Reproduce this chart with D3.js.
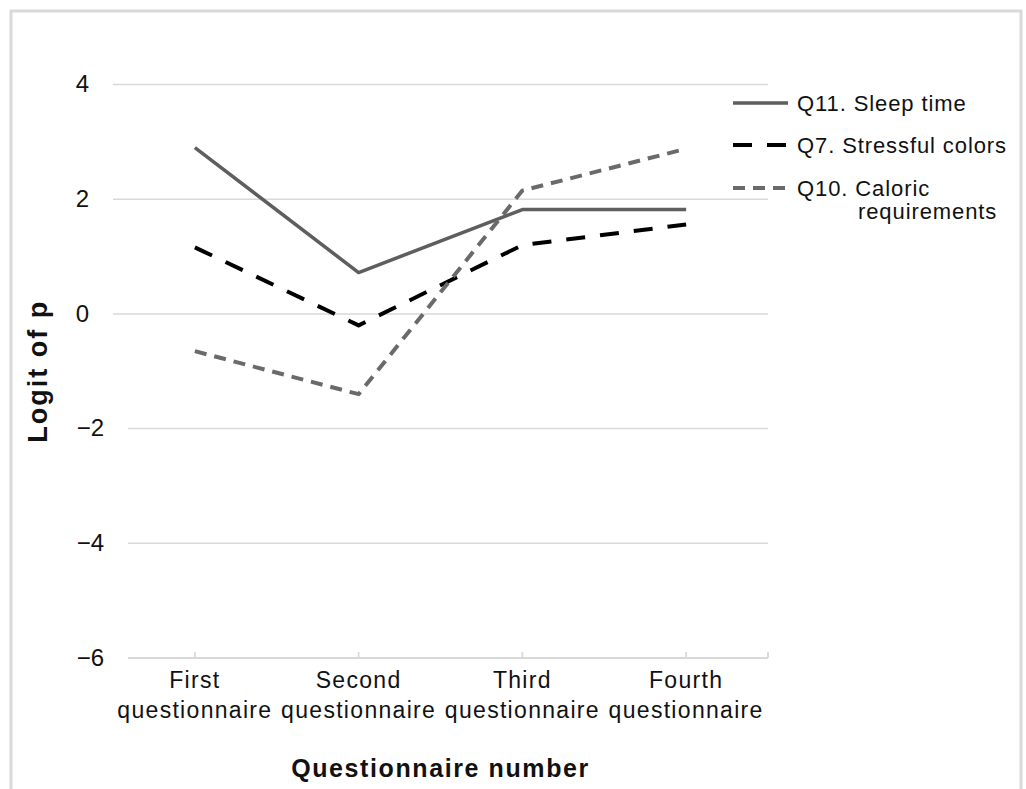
<!DOCTYPE html>
<html>
<head>
<meta charset="utf-8">
<script src="https://cdn.jsdelivr.net/npm/d3@7/dist/d3.min.js"></script>
<style>
  html, body { margin: 0; padding: 0; background: #fff; }
  svg { display: block; }
  text { font-family: "Liberation Sans", Arial, sans-serif; fill: #111; }
</style>
</head>
<body>
<svg id="chart" width="1026" height="789"></svg>
<script>
// ---- data ----
const categories = ["First questionnaire", "Second questionnaire", "Third questionnaire", "Fourth questionnaire"];
const categoryLines = [["First", "questionnaire"], ["Second", "questionnaire"], ["Third", "questionnaire"], ["Fourth", "questionnaire"]];
const q11SleepTime = [2.90, 0.72, 1.82, 1.82];
const q7StressfulColors = [1.16, -0.20, 1.20, 1.56];
const q10CaloricRequirements = [-0.65, -1.40, 2.15, 2.88];
const yTicks = [-6, -4, -2, 0, 2, 4];
const seriesNames = ["Q11. Sleep time", "Q7. Stressful colors", "Q10. Caloric requirements"];
const legendLabelLines = [["Q11. Sleep time"], ["Q7. Stressful colors"], ["Q10. Caloric", "requirements"]];

// ---- layout ----
const svg = d3.select("#chart");
const plot = { left: 113, right: 768, top: 84.5, bottom: 658 };
const lowerLeft = 128; // lower gridlines / axis start slightly further right in the reference

// frame
svg.append("rect")
  .attr("x", 11).attr("y", 11).attr("width", 1010).attr("height", 800)
  .attr("fill", "none").attr("stroke", "#d9d9d9").attr("stroke-width", 3);

const x = d3.scaleBand().domain(categories).range([plot.left, plot.right]).padding(0);
const xc = c => x(c) + x.bandwidth() / 2;
const y = d3.scaleLinear().domain([-6, 4]).range([plot.bottom, plot.top]);
const gridStart = d => d < 0 ? lowerLeft : plot.left;

// gridlines
svg.append("g").selectAll("line").data(yTicks.filter(t => t !== -6)).join("line")
  .attr("x1", d => gridStart(d)).attr("x2", plot.right)
  .attr("y1", d => y(d)).attr("y2", d => y(d))
  .attr("stroke", "#d9d9d9").attr("stroke-width", 1.5);

// y axis labels
const yAxis = d3.axisLeft(y).tickValues(yTicks).tickSize(0).tickPadding(0)
  .tickFormat(d => d < 0 ? "\u2212" + Math.abs(d) : String(d));
const gy = svg.append("g").attr("transform", `translate(${plot.left - 24},0)`).call(yAxis);
gy.select(".domain").remove();
gy.selectAll(".tick")
  .attr("transform", d => `translate(${d < 0 ? lowerLeft - plot.left : 0},${y(d)})`);
gy.selectAll("text")
  .attr("font-size", 24).attr("fill", "#111")
  .style("font-family", '"Liberation Sans", Arial, sans-serif');

// x axis
const gx = svg.append("g").attr("transform", `translate(0,${plot.bottom})`);
gx.append("line").attr("x1", lowerLeft).attr("x2", plot.right).attr("y1", 0).attr("y2", 0)
  .attr("stroke", "#d9d9d9").attr("stroke-width", 1.8);
const tickXs = categories.map(xc).concat([plot.right]);
gx.selectAll("line.tk").data(tickXs).join("line").attr("class", "tk")
  .attr("x1", d => d).attr("x2", d => d).attr("y1", 0).attr("y2", -6)
  .attr("stroke", "#d9d9d9").attr("stroke-width", 1.8);
const lbl = gx.selectAll("text.cat").data(categories).join("text").attr("class", "cat")
  .attr("text-anchor", "middle").attr("font-size", 23).style("letter-spacing", "1.3px");
lbl.each(function(c, i) {
  const t = d3.select(this);
  categoryLines[i].forEach((s, j) => {
    t.append("tspan").attr("x", xc(c)).attr("y", 30 + j * 30).text(s);
  });
});

// axis titles
svg.append("text").attr("x", (plot.left + plot.right) / 2).attr("y", 777)
  .attr("text-anchor", "middle").attr("font-size", 25).attr("font-weight", "bold")
  .style("letter-spacing", "1.6px").text("Questionnaire number");
svg.append("text")
  .attr("transform", `translate(47,${(plot.top + plot.bottom) / 2}) rotate(-90)`)
  .attr("text-anchor", "middle").attr("font-size", 27).attr("font-weight", "bold")
  .style("letter-spacing", "2px").text("Logit of p");

// series
const styles = [
  { color: "#5e5e5e", width: 3.5, dash: null },
  { color: "#000000", width: 4, dash: "19,15" },
  { color: "#6a6a6a", width: 4, dash: "12,8" }
];
const allSeries = [q11SleepTime, q7StressfulColors, q10CaloricRequirements];
const line = d3.line().x((d, i) => xc(categories[i])).y(d => y(d));
allSeries.forEach((vals, k) => {
  svg.append("path").datum(vals)
    .attr("d", line)
    .attr("fill", "none")
    .attr("stroke", styles[k].color)
    .attr("stroke-width", styles[k].width)
    .attr("stroke-dasharray", styles[k].dash)
    .attr("stroke-linejoin", "round");
});

// legend
const legY = [103, 145, 188];
const lg = svg.append("g");
seriesNames.forEach((name, k) => {
  lg.append("line").attr("x1", 733).attr("x2", 788).attr("y1", legY[k]).attr("y2", legY[k])
    .attr("stroke", styles[k].color).attr("stroke-width", styles[k].width)
    .attr("stroke-dasharray", styles[k].dash);
  const t = lg.append("text").attr("font-size", 22).style("letter-spacing", "0.9px");
  legendLabelLines[k].forEach((s, j) => {
    t.append("tspan").attr("x", j === 0 ? 797 : 858).attr("y", legY[k] + 8 + j * 23).text(s);
  });
});
</script>
</body>
</html>
